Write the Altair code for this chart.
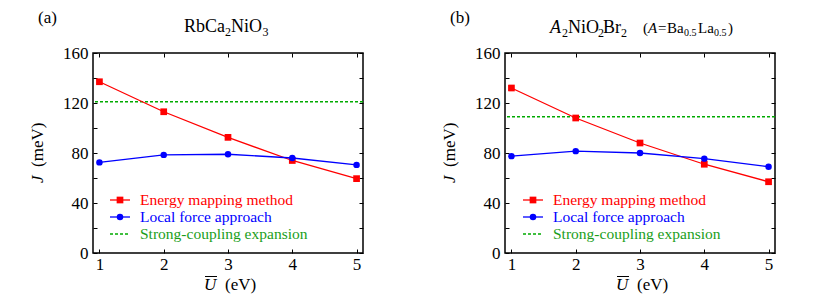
import altair as alt
import pandas as pd

FONT = "Liberation Serif"

# ---- data ----
U = [1, 2, 3, 4, 5]
a_energy = [137, 113, 92.5, 74, 59.5]
a_local = [72.5, 78.5, 79, 76, 70.5]
a_strong = 121
b_energy = [132, 108, 88, 71, 57]
b_local = [77.5, 81.5, 80, 75.5, 69]
b_strong = 109
y_major = [0, 40, 80, 120, 160]
y_minor = [0, 20, 40, 60, 80, 100, 120, 140, 160]
legend_labels = ["Energy mapping method", "Local force approach", "Strong-coupling expansion"]

RED = "#ff0000"
BLUE = "#0000ff"
GREEN = "#00aa00"
GREEN_TXT = "#1a9e1a"

W, H = 270, 200
one = pd.DataFrame({"k": [0]})

xs = alt.Scale(domain=[0.9, 5.1], nice=False, zero=False)
ys = alt.Scale(domain=[0, 160], nice=False)


def txt(s, x, y, size=17, style="normal", color="black", angle=0, align="left", baseline="alphabetic"):
    return alt.Chart(one).mark_text(
        text=s, font=FONT, fontSize=size, fontStyle=style, color=color,
        angle=angle, align=align, baseline=baseline
    ).encode(x=alt.value(x), y=alt.value(y))


def tick_axis(orient, values):
    return alt.Axis(orient=orient, values=values, offset=-4, tickSize=4, tickWidth=1,
                    tickColor="black", labels=False, domain=False, grid=False, title=None)


def panel(label, title_parts, title_base, energy, local, strong, leg_x):
    df = pd.DataFrame({"U": U, "E": energy, "L": local})
    sdf = pd.DataFrame({"S": [strong]})

    x_lab = alt.Axis(orient="bottom", values=U, ticks=False, tickSize=0, domain=False, grid=False,
                     labelFont=FONT, labelFontSize=17, labelPadding=3, labelColor="black",
                     title=None, format="d")
    y_lab = alt.Axis(orient="left", values=y_major, ticks=False, tickSize=0, domain=False, grid=False,
                     labelFont=FONT, labelFontSize=17, labelPadding=5, labelColor="black",
                     title=None, format="d")

    rule = alt.Chart(sdf).mark_rule(color=GREEN, strokeWidth=1.3, strokeDash=[3, 2]).encode(
        y=alt.Y("S:Q", scale=ys, axis=None))
    e_line = alt.Chart(df).mark_line(color=RED, strokeWidth=1.3).encode(
        x=alt.X("U:Q", scale=xs, axis=x_lab), y=alt.Y("E:Q", scale=ys, axis=y_lab))
    e_pts = alt.Chart(df).mark_point(shape="square", filled=True, size=45, color=RED, opacity=1).encode(
        x=alt.X("U:Q", scale=xs, axis=tick_axis("bottom", U)),
        y=alt.Y("E:Q", scale=ys, axis=tick_axis("left", y_minor)))
    l_line = alt.Chart(df).mark_line(color=BLUE, strokeWidth=1.3).encode(
        x=alt.X("U:Q", scale=xs, axis=tick_axis("top", U)),
        y=alt.Y("L:Q", scale=ys, axis=tick_axis("right", y_minor)))
    l_pts = alt.Chart(df).mark_point(shape="circle", filled=True, size=42, color=BLUE, opacity=1).encode(
        x=alt.X("U:Q", scale=xs, axis=None), y=alt.Y("L:Q", scale=ys, axis=None))

    layers = [rule, e_line, e_pts, l_line, l_pts]

    # legend (drawn manually)
    rows = [147, 164, 181]
    lx0, lx1, lxm, ltx = leg_x, leg_x + 20, leg_x + 10, leg_x + 30
    layers.append(alt.Chart(one).mark_rule(color=RED, strokeWidth=1.3).encode(
        x=alt.value(lx0), x2=alt.value(lx1), y=alt.value(rows[0])))
    layers.append(alt.Chart(one).mark_point(shape="square", filled=True, size=45, color=RED, opacity=1).encode(
        x=alt.value(lxm), y=alt.value(rows[0])))
    layers.append(alt.Chart(one).mark_rule(color=BLUE, strokeWidth=1.3).encode(
        x=alt.value(lx0), x2=alt.value(lx1), y=alt.value(rows[1])))
    layers.append(alt.Chart(one).mark_point(shape="circle", filled=True, size=42, color=BLUE, opacity=1).encode(
        x=alt.value(lxm), y=alt.value(rows[1])))
    layers.append(alt.Chart(one).mark_rule(color=GREEN, strokeWidth=1.3, strokeDash=[3, 2]).encode(
        x=alt.value(lx0), x2=alt.value(lx1), y=alt.value(rows[2])))
    for lab, col, ry in zip(legend_labels, [RED, BLUE, GREEN_TXT], rows):
        layers.append(txt(lab, ltx, ry, size=15.5, color=col, baseline="middle"))

    # panel label and title
    layers.append(txt(label, -55, -30, size=17))
    for s, x, dy, size, style in title_parts:
        layers.append(txt(s, x, title_base + dy, size=size, style=style))

    # y-axis title (rotated): J (meV)
    layers.append(txt("J", -50, 130, size=17, style="italic", angle=270))
    layers.append(txt("(meV)", -50, 114, size=17, angle=270))

    # x-axis title: U-bar (eV)
    layers.append(txt("U", 111, 237, size=17, style="italic"))
    layers.append(alt.Chart(one).mark_rule(color="black", strokeWidth=1).encode(
        x=alt.value(112), x2=alt.value(124), y=alt.value(223.5)))
    layers.append(txt("(eV)", 132, 237, size=17))

    return alt.layer(*layers).resolve_axis(x="independent", y="independent").properties(width=W, height=H)


title_a = [
    ("RbCa", 91, 0, 18, "normal"),
    ("2", 132, 4, 12, "normal"),
    ("NiO", 138, 0, 18, "normal"),
    ("3", 169.5, 4, 12, "normal"),
]
title_b = [
    ("A", 45, 0, 18, "italic"),
    ("2", 57, 4, 12, "normal"),
    ("NiO", 63, 0, 18, "normal"),
    ("2", 93, 4, 12, "normal"),
    ("Br", 98, 0, 18, "normal"),
    ("2", 116, 4, 12, "normal"),
    ("(", 138, 0, 15, "normal"),
    ("A", 143, 0, 15, "italic"),
    ("=", 153, 0, 15, "normal"),
    ("Ba", 162, 0, 15, "normal"),
    ("0.5", 179, 3, 10, "normal"),
    ("La", 193, 0, 15, "normal"),
    ("0.5", 209, 3, 10, "normal"),
    (")", 223, 0, 15, "normal"),
]

pa = panel("(a)", title_a, -21, a_energy, a_local, a_strong, 17)
pb = panel("(b)", title_b, -20, b_energy, b_local, b_strong, 18)

chart = alt.hconcat(pa, pb, spacing=75).properties(
    padding={"left": 20, "top": 0, "right": 5, "bottom": 0}
).configure_view(stroke="black", strokeWidth=1.5)

chart.save("out.html", embed_options={"renderer": "svg", "actions": False})
